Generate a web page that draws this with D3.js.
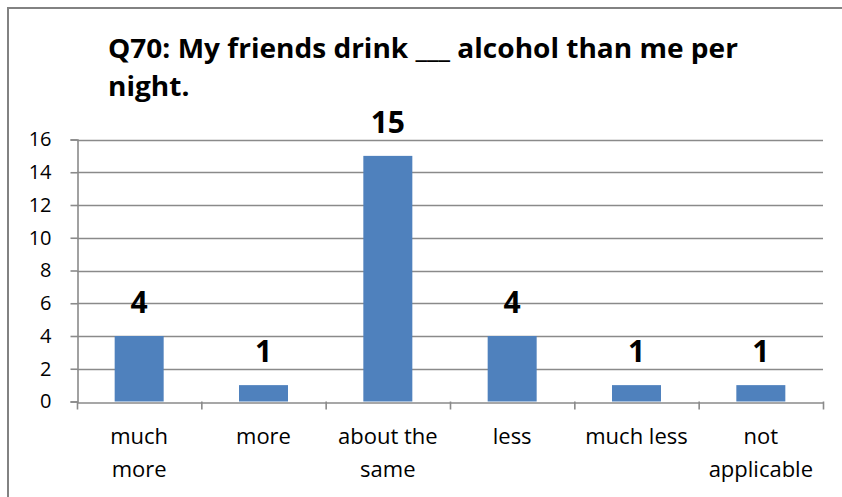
<!DOCTYPE html>
<html>
<head>
<meta charset="utf-8">
<script src="https://cdn.jsdelivr.net/npm/d3@7"></script>
<style>
  html, body { margin: 0; padding: 0; background: #fff; }
  svg { display: block; }
</style>
</head>
<body>
<svg id="chart" width="842" height="497"></svg>
<script>
const categories = [["much", "more"], ["more"], ["about the", "same"], ["less"], ["much less"], ["not", "applicable"]];
const values = [4, 1, 15, 4, 1, 1];
const yTicks = [0, 2, 4, 6, 8, 10, 12, 14, 16];
const titleLines = ["Q70: My friends drink ___ alcohol than me per", "night."];

const W = 842, H = 497;
const plot = { left: 77, right: 823, top: 139.5, bottom: 401.5 };
const font = "'Open Sans', 'DejaVu Sans', sans-serif";
const gridColor = "#8a8a8a";

const svg = d3.select("#chart");

// outer frame (extends beyond the picture on right and bottom)
svg.append("rect")
  .attr("x", 8).attr("y", 8).attr("width", 1000).attr("height", 1000)
  .attr("fill", "#fff").attr("stroke", "#828282").attr("stroke-width", 2);

const idx = categories.map((d, i) => i);
const x = d3.scaleBand().domain(idx).range([plot.left, plot.right]).paddingInner(0).paddingOuter(0);
const y = d3.scaleLinear().domain([0, 16]).range([plot.bottom, plot.top]);

// gridlines
svg.append("g").selectAll("line").data(yTicks.filter(t => t > 0)).join("line")
  .attr("x1", plot.left).attr("x2", plot.right)
  .attr("y1", d => Math.round(y(d)) + 0.5).attr("y2", d => Math.round(y(d)) + 0.5)
  .attr("stroke", gridColor).attr("stroke-width", 1.6);

// y axis
const yAxis = d3.axisLeft(y).tickValues(yTicks).tickSize(7).tickPadding(19).tickFormat(d3.format("d"));
const gy = svg.append("g").attr("transform", `translate(${plot.left + 0.5},0)`).call(yAxis);
gy.select(".domain").attr("stroke", gridColor).attr("stroke-width", 1.6);
gy.selectAll(".tick line").attr("stroke", gridColor).attr("stroke-width", 1.6);
gy.selectAll(".tick text").attr("font-family", font).attr("font-size", 20).attr("fill", "#000");

// bars
const barW = 49;
svg.append("g").selectAll("rect").data(values).join("rect")
  .attr("x", (d, i) => x(i) + x.bandwidth() / 2 - barW / 2)
  .attr("y", d => y(d))
  .attr("width", barW)
  .attr("height", d => y(0) - y(d))
  .attr("fill", "#4F81BD");

// x axis
const xAxis = d3.axisBottom(x).tickSize(0).tickFormat("");
const gx = svg.append("g").attr("transform", `translate(0,${Math.round(y(0)) + 0.5})`).call(xAxis);
gx.select(".domain").attr("stroke", gridColor).attr("stroke-width", 1.6);
// category boundary ticks
const bounds = idx.map(i => x(i)).concat([plot.right]);
svg.append("g").selectAll("line").data(bounds).join("line")
  .attr("x1", d => d + 0.5).attr("x2", d => d + 0.5)
  .attr("y1", y(0)).attr("y2", y(0) + 8)
  .attr("stroke", gridColor).attr("stroke-width", 1.6);

// category labels
const cl = svg.append("g").selectAll("text").data(categories).join("text")
  .attr("font-family", font).attr("font-size", 22).attr("fill", "#000")
  .attr("text-anchor", "middle");
cl.each(function(lines, i) {
  const t = d3.select(this);
  lines.forEach((ln, j) => {
    t.append("tspan").attr("x", x(i) + x.bandwidth() / 2).attr("y", 444 + j * 32.5).text(ln);
  });
});

// value labels
svg.append("g").selectAll("text").data(values).join("text")
  .attr("x", (d, i) => x(i) + x.bandwidth() / 2)
  .attr("y", d => y(d) - 23)
  .attr("text-anchor", "middle")
  .attr("font-family", font).attr("font-size", 30).attr("font-weight", "bold").attr("fill", "#000")
  .text(d => d);

// title
const tg = svg.append("g").attr("transform", "translate(108,0)");
const tt = tg.selectAll("text").data(titleLines).join("text")
  .attr("x", 0).attr("y", (d, i) => 58 + i * 38)
  .attr("font-family", font).attr("font-size", 27.5).attr("font-weight", "bold").attr("fill", "#000")
  .text(d => d);
const natural = tt.nodes()[0].getComputedTextLength();
const sx = 630 / natural;
tg.attr("transform", `translate(108,0) scale(${sx},1)`);
</script>
</body>
</html>
